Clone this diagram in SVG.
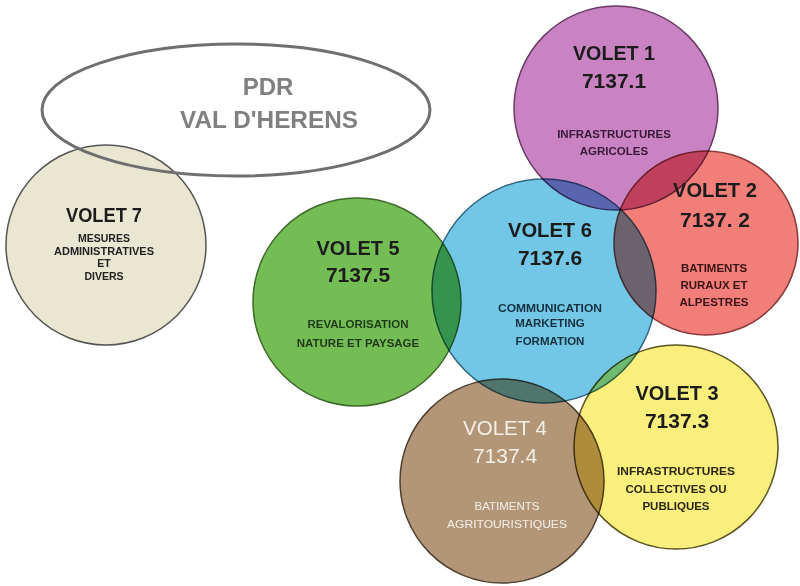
<svg xmlns="http://www.w3.org/2000/svg" width="800" height="586" viewBox="0 0 800 586">
<style>
text{font-family:"Liberation Sans",Arial,sans-serif;text-anchor:middle}
.t{font-weight:bold;font-size:21px;fill:#1c1c1c}
.s{font-weight:bold;font-size:11.5px}
.c{mix-blend-mode:multiply;stroke-width:1.5}
</style>
<rect width="800" height="586" fill="#ffffff"/>
<g id="volet7">
<circle cx="106" cy="245" r="100" fill="#e9e7d2" stroke="#555" stroke-width="1.5"/>
<text class="t" x="104" y="222" textLength="76" lengthAdjust="spacingAndGlyphs">VOLET 7</text>
<g class="s" style="font-size:10.5px;fill:#222">
<text x="104" y="242">MESURES</text>
<text x="104" y="255" textLength="100" lengthAdjust="spacingAndGlyphs">ADMINISTRATIVES</text>
<text x="104" y="267">ET</text>
<text x="104" y="280">DIVERS</text>
</g>
</g>
<g id="pdr">
<ellipse cx="236" cy="110" rx="194" ry="66" fill="none" stroke="#6f6f6f" stroke-width="3"/>
<text x="268" y="95" font-size="24" font-weight="bold" fill="#808080">PDR</text>
<text x="269" y="128" font-size="24" font-weight="bold" fill="#808080" textLength="178" lengthAdjust="spacingAndGlyphs">VAL D'HERENS</text>
</g>
<g id="circles">
<circle id="c5" class="c" cx="357" cy="302" r="104" fill="#74bd55" stroke="#3d6a2c"/>
<circle id="c1" class="c" cx="616" cy="108" r="102" fill="#c982c2" stroke="#6a3a66"/>
<circle id="c6" class="c" cx="544" cy="291" r="112" fill="#72c6e6" stroke="#2f6680"/>
<circle id="c2" class="c" cx="706" cy="243" r="92" fill="#f27e7a" stroke="#8a3a3a"/>
<circle id="c4" class="c" cx="502" cy="481" r="102" fill="#b39678" stroke="#4f4030"/>
<circle id="c3" class="c" cx="676" cy="447" r="102" fill="#faee7c" stroke="#5a5420"/>
</g>
<g id="volet5">
<text class="t" x="358" y="255" textLength="83" lengthAdjust="spacingAndGlyphs">VOLET 5</text>
<text class="t" x="358" y="282">7137.5</text>
<text class="s" x="358" y="328" fill="#1f3a18">REVALORISATION</text>
<text class="s" x="358" y="347" fill="#1f3a18">NATURE ET PAYSAGE</text>
</g>
<g id="volet1">
<text class="t" x="614" y="60" textLength="82" lengthAdjust="spacingAndGlyphs">VOLET 1</text>
<text class="t" x="614" y="88">7137.1</text>
<text class="s" x="614" y="138" fill="#3a1838" font-size="11">INFRASTRUCTURES</text>
<text class="s" x="614" y="155" fill="#3a1838" font-size="11">AGRICOLES</text>
</g>
<g id="volet6">
<text class="t" x="550" y="237" textLength="84" lengthAdjust="spacingAndGlyphs">VOLET 6</text>
<text class="t" x="550" y="265">7137.6</text>
<text class="s" x="550" y="312" fill="#163040" textLength="104" lengthAdjust="spacingAndGlyphs">COMMUNICATION</text>
<text class="s" x="550" y="327" fill="#163040">MARKETING</text>
<text class="s" x="550" y="345" fill="#163040">FORMATION</text>
</g>
<g id="volet2">
<text class="t" x="715" y="197" textLength="84" lengthAdjust="spacingAndGlyphs">VOLET 2</text>
<text class="t" x="715" y="227">7137. 2</text>
<text class="s" x="714" y="272" fill="#3a1414">BATIMENTS</text>
<text class="s" x="714" y="289" fill="#3a1414">RURAUX ET</text>
<text class="s" x="714" y="306" fill="#3a1414">ALPESTRES</text>
</g>
<g id="volet4">
<text class="t" x="505" y="435" fill="#f4f0e8" style="fill:#f4f0e8;font-weight:normal" textLength="84" lengthAdjust="spacingAndGlyphs">VOLET 4</text>
<text class="t" x="505" y="463" style="fill:#f4f0e8;font-weight:normal">7137.4</text>
<text x="507" y="510" font-size="11.5" fill="#f4f0e8">BATIMENTS</text>
<text x="507" y="528" font-size="11.5" fill="#f4f0e8" textLength="120" lengthAdjust="spacingAndGlyphs">AGRITOURISTIQUES</text>
</g>
<g id="volet3">
<text class="t" x="677" y="400" textLength="83" lengthAdjust="spacingAndGlyphs">VOLET 3</text>
<text class="t" x="677" y="428">7137.3</text>
<text class="s" x="676" y="475" fill="#2a2810" textLength="118" lengthAdjust="spacingAndGlyphs">INFRASTRUCTURES</text>
<text class="s" x="676" y="493" fill="#2a2810">COLLECTIVES OU</text>
<text class="s" x="676" y="510" fill="#2a2810">PUBLIQUES</text>
</g>
</svg>
